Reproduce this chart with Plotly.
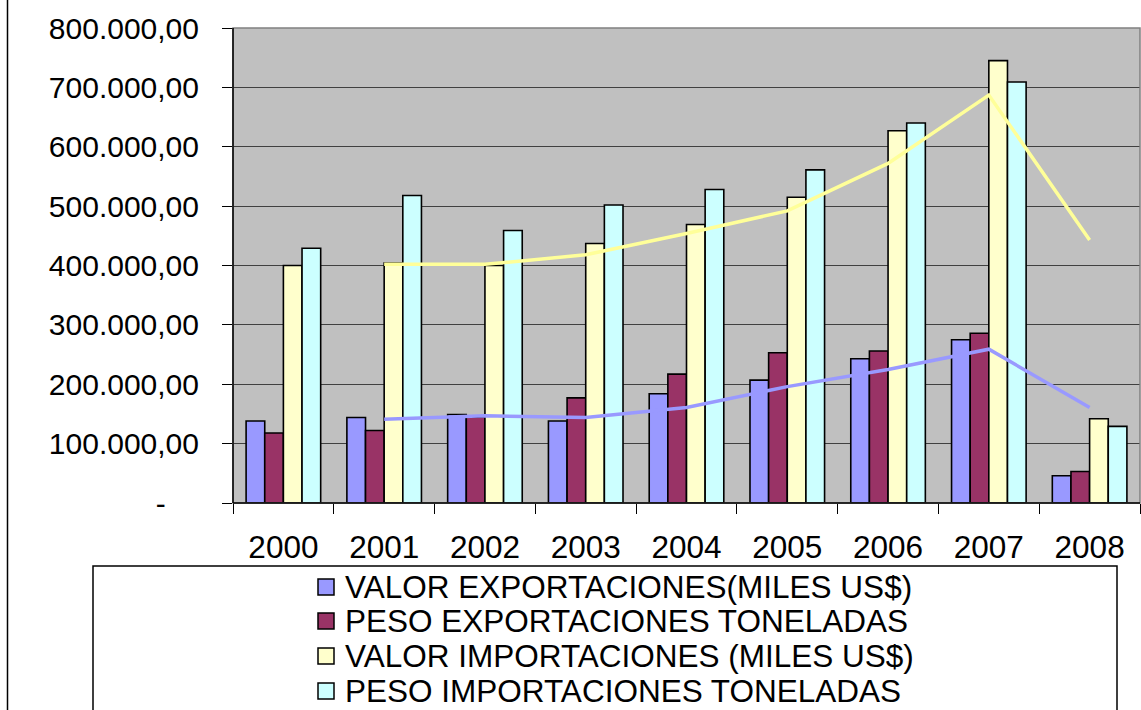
import plotly.graph_objects as go

# ---------------- data ----------------
years = ["2000", "2001", "2002", "2003", "2004", "2005", "2006", "2007", "2008"]

series_names = [
    "VALOR EXPORTACIONES(MILES US$)",
    "PESO EXPORTACIONES TONELADAS",
    "VALOR IMPORTACIONES (MILES US$)",
    "PESO IMPORTACIONES TONELADAS",
]
valor_export = [138000, 144000, 149000, 138000, 184000, 207000, 243000, 275000, 46000]
peso_export = [118000, 122000, 145000, 177000, 217000, 253000, 256000, 286000, 53000]
valor_import = [400000, 404000, 400000, 437000, 469000, 515000, 627000, 745000, 142000]
peso_import = [429000, 518000, 459000, 502000, 528000, 561000, 640000, 709000, 129000]

# trend lines (start at 2001)
trend_years = ["2001", "2002", "2003", "2004", "2005", "2006", "2007", "2008"]
trend_import = [402000, 402000, 418000, 454000, 492000, 572000, 687000, 443000]
trend_export = [141000, 147000, 144000, 161000, 196000, 225000, 259000, 161000]

ytick_vals = [0, 100000, 200000, 300000, 400000, 500000, 600000, 700000, 800000]
ytick_text = ["-\u00a0\u00a0\u00a0\u00a0", "100.000,00", "200.000,00", "300.000,00", "400.000,00",
              "500.000,00", "600.000,00", "700.000,00", "800.000,00"]

# ---------------- style ----------------
W, H = 1141, 710
L, R, T, B = 233, 1, 28, 207
PW, PH = W - L - R, H - T - B
FONT = "Liberation Sans, Arial, sans-serif"
bar_colors = ["#9999FF", "#993366", "#FFFFCC", "#CCFFFF"]


def px(x):
    return (x - L) / PW


def py(y):
    return (H - B - y) / PH


fig = go.Figure()
for name, vals, col in zip(series_names, [valor_export, peso_export, valor_import, peso_import], bar_colors):
    fig.add_trace(go.Bar(
        x=years, y=vals, name=name, showlegend=False,
        marker=dict(color=col, line=dict(color="#000000", width=1.6)),
    ))

fig.add_trace(go.Scatter(x=trend_years, y=trend_import, mode="lines", showlegend=False,
                         line=dict(color="#FFFF99", width=3.5)))
fig.add_trace(go.Scatter(x=trend_years, y=trend_export, mode="lines", showlegend=False,
                         line=dict(color="#9999FF", width=3.5)))

shapes = []
annotations = []
# plot frame (top/right gray)
shapes.append(dict(type="rect", xref="paper", yref="paper", x0=0, x1=1, y0=0, y1=1,
                   line=dict(color="#808080", width=1.5), layer="above"))
# left axis line and bottom axis line in black
shapes.append(dict(type="line", xref="paper", yref="paper", x0=0, x1=0, y0=0, y1=1,
                   line=dict(color="#000000", width=1.5), layer="above"))
shapes.append(dict(type="line", xref="paper", yref="paper", x0=0, x1=1, y0=0, y1=0,
                   line=dict(color="#000000", width=1.5), layer="above"))
# chart-area left border
shapes.append(dict(type="line", xref="paper", yref="paper", x0=px(7.5), x1=px(7.5), y0=py(0), y1=py(712),
                   line=dict(color="#000000", width=1.5)))
# legend box (bottom cropped)
shapes.append(dict(type="path", xref="paper", yref="paper",
                   path=f"M {px(93)} {py(715)} L {px(93)} {py(566)} L {px(1117)} {py(566)} L {px(1117)} {py(715)}",
                   line=dict(color="#000000", width=1.5)))

row_y = [587, 621, 656, 691]
for name, col, yc in zip(series_names, bar_colors, row_y):
    shapes.append(dict(type="rect", xref="paper", yref="paper",
                       x0=px(318), x1=px(334), y0=py(yc - 8), y1=py(yc + 8),
                       fillcolor=col, line=dict(color="#000000", width=1.5)))
    annotations.append(dict(xref="paper", yref="paper", x=px(343), y=py(yc), text=name,
                            showarrow=False, xanchor="left", yanchor="middle",
                            font=dict(family=FONT, size=31.5, color="#000000")))

fig.update_layout(
    width=W, height=H,
    margin=dict(l=L, r=R, t=T, b=B, pad=0),
    paper_bgcolor="#FFFFFF", plot_bgcolor="#C0C0C0",
    barmode="group", bargap=0.26, bargroupgap=0,
    showlegend=False,
    shapes=shapes, annotations=annotations,
    font=dict(family=FONT, size=30, color="#000000"),
)
fig.update_xaxes(type="category", tickson="boundaries", ticks="outside", ticklen=10,
                 tickcolor="#000000", tickwidth=1, showgrid=False, showline=False,
                 ticklabelstandoff=22, tickfont=dict(family=FONT, size=31.5, color="#000000"))
fig.update_yaxes(range=[0, 800000], tickvals=ytick_vals, ticktext=ytick_text,
                 ticks="outside", ticklen=10, tickcolor="#000000", tickwidth=1,
                 showgrid=True, gridcolor="#404040", gridwidth=1, zeroline=False, showline=False,
                 ticklabelstandoff=17, tickfont=dict(family=FONT, size=30, color="#000000"))

fig.write_html("out.html", config={"displayModeBar": False},
               post_script="document.body.style.margin='0';document.body.style.overflow='hidden';")
